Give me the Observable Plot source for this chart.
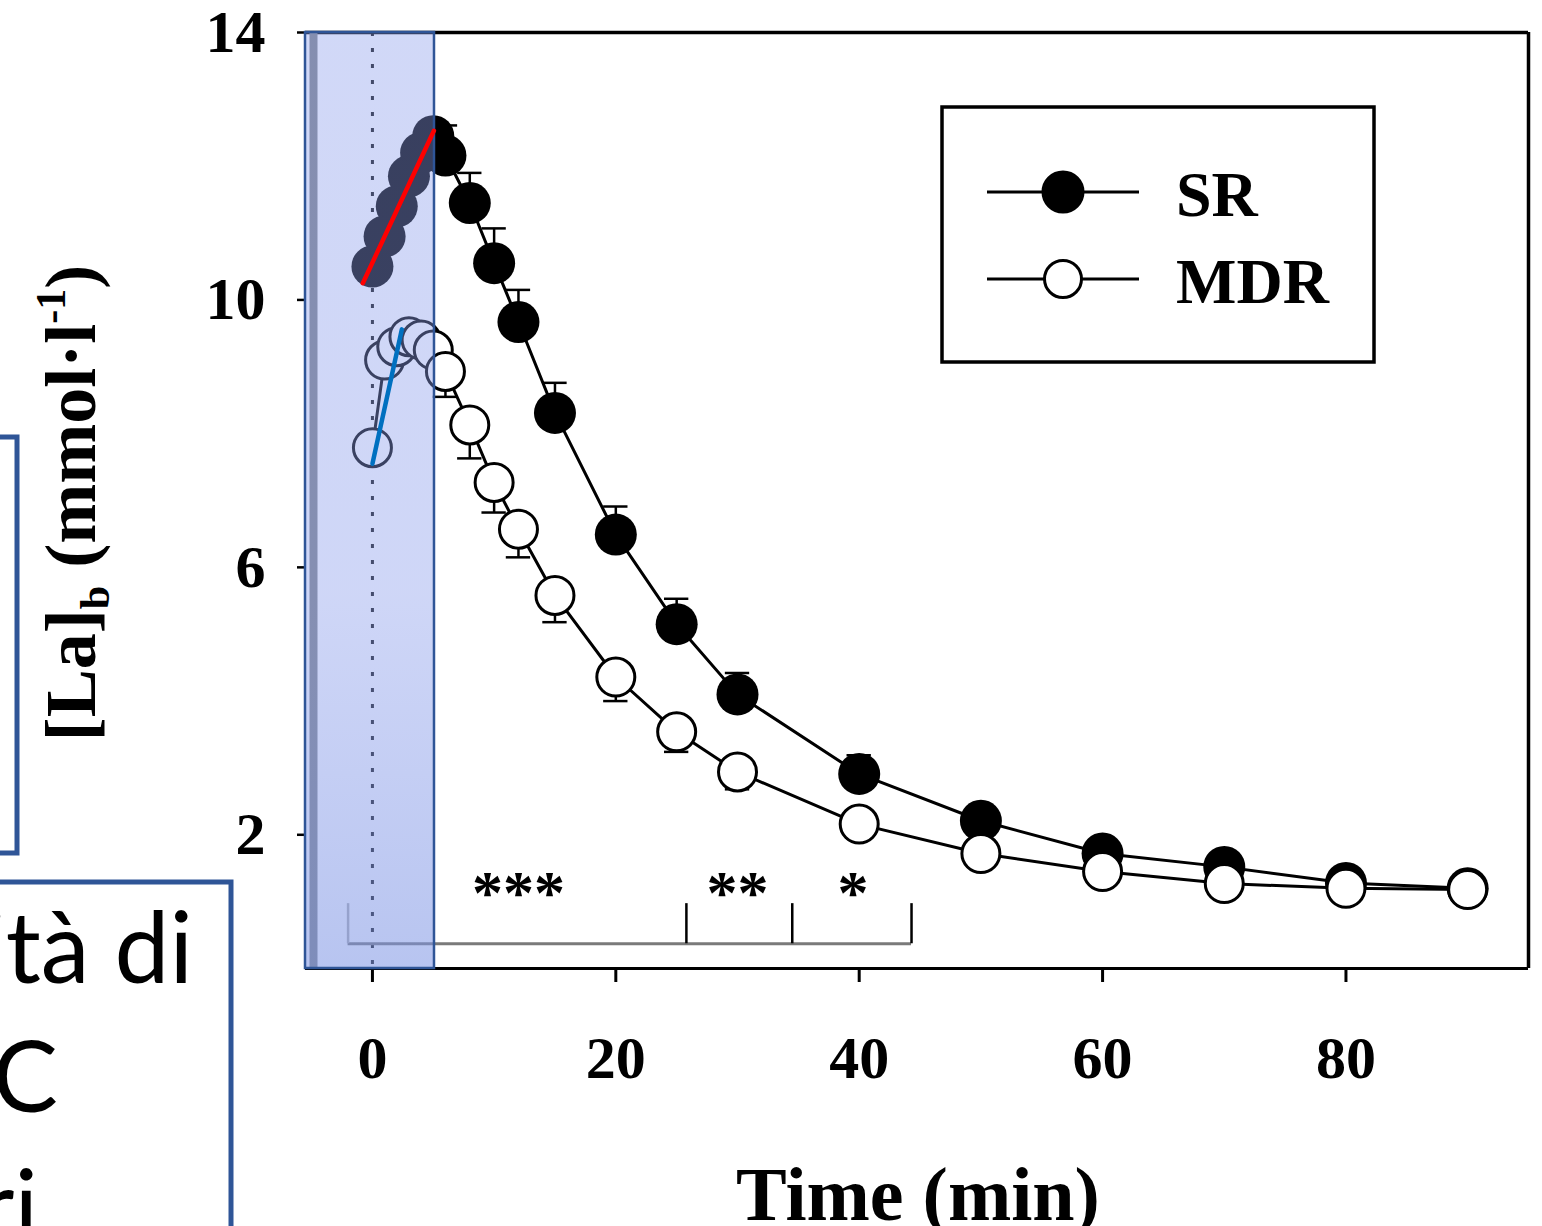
<!DOCTYPE html>
<html>
<head>
<meta charset="utf-8">
<script src="https://cdn.jsdelivr.net/npm/d3@7"></script>
<script src="https://cdn.jsdelivr.net/npm/@observablehq/plot@0.6"></script>
<style>
  html, body { margin: 0; padding: 0; background: #fff; overflow: hidden; }
  #wrap { position: relative; width: 1542px; height: 1226px; overflow: hidden; background: #fff; }
  #wrap > svg { position: absolute; left: 0; top: 0; overflow: visible; }
</style>
</head>
<body>
<div id="wrap"></div>
<script>
// Blood lactate during recovery, SR vs MDR (minutes after exercise)
const timeMin = [0, 1, 2, 3, 4, 5, 6, 8, 10, 12, 15, 20, 25, 30, 40, 50, 60, 70, 80, 90];
const lactateSR  = [10.5, 10.95, 11.4, 11.85, 12.2, 12.45, 12.16, 11.45, 10.55, 9.67, 8.31, 6.49, 5.15, 4.1, 2.91, 2.21, 1.72, 1.52, 1.28, 1.2];
const sdSR       = [0, 0, 0, 0, 0, 0, 0.45, 0.45, 0.52, 0.48, 0.45, 0.42, 0.38, 0.32, 0.28, 0.22, 0.18, 0.15, 0.12, 0.1];
const lactateMDR = [7.79, 9.1, 9.3, 9.45, 9.4, 9.25, 8.93, 8.13, 7.27, 6.57, 5.58, 4.36, 3.54, 2.94, 2.16, 1.72, 1.45, 1.27, 1.2, 1.18];
const sdMDR      = [0, 0, 0, 0, 0, 0, 0.38, 0.5, 0.45, 0.42, 0.4, 0.36, 0.3, 0.26, 0.22, 0.18, 0.15, 0.12, 0.1, 0.1];

// Axes
const xDomain = [-5.5, 95];
const yDomain = [0, 14];
const xTicks = [0, 20, 40, 60, 80];
const yTicks = [2, 6, 10, 14];

// Highlighted early-recovery window and the two initial slopes
const windowTime = [-5.5, 5.1];
const slopeSRTime = [-0.79, 5.05];
const slopeSRValue = [10.25, 12.53];
const slopeMDRTime = [0, 2.42];
const slopeMDRValue = [7.55, 9.56];

// Significance brackets and stars
const bracketEdges = [-2, 25.8, 34.5, 44.3];
const bracketBase = 0.37;
const bracketTop = 0.97;
const starTime = [12, 30, 39.5];
const starLabels = ["***", "**", "*"];
const starLevel = 1.27;

// Legend
const seriesNames = ["SR", "MDR"];

const sr = timeMin.map((t, i) => ({t, v: lactateSR[i], sd: sdSR[i]}));
const mdr = timeMin.map((t, i) => ({t, v: lactateMDR[i], sd: sdMDR[i]}));
const srBars = sr.filter(d => d.sd > 0);
const mdrBars = mdr.filter(d => d.sd > 0);
const serif = "'Liberation Serif', 'Times New Roman', serif";

const chart = Plot.plot({
  width: 1542,
  height: 1226,
  marginLeft: 305,
  marginRight: 14,
  marginTop: 32,
  marginBottom: 258,
  x: {domain: xDomain},
  y: {domain: yDomain},
  style: {fontFamily: serif, background: "transparent", color: "#000"},
  marks: [
    // dotted reference line at t = 0
    Plot.ruleX([0], {stroke: "#111", strokeWidth: 3, strokeDasharray: "4,12"}),
    // frame
    Plot.ruleY([yDomain[1]], {stroke: "#000", strokeWidth: 3.5}),
    Plot.ruleY([yDomain[0]], {stroke: "#000", strokeWidth: 3}),
    Plot.ruleX([xDomain[1]], {stroke: "#000", strokeWidth: 3.5}),
    Plot.ruleX([xDomain[0]], {stroke: "#808488", strokeWidth: 8, dx: 8}),
    // axes
    Plot.axisX(xTicks, {anchor: "bottom", tickSize: 14, tickPadding: 53, fontSize: 60, fontWeight: "bold", strokeWidth: 3, label: null, tickFormat: "d"}),
    Plot.axisY(yTicks, {anchor: "left", tickSize: 8, tickPadding: 32, fontSize: 60, fontWeight: "bold", strokeWidth: 2.5, label: null, tickFormat: "d"}),
    // significance brackets
    Plot.ruleY([bracketBase], {x1: bracketEdges[0], x2: bracketEdges[bracketEdges.length - 1], stroke: "#7a7a7a", strokeWidth: 3}),
    Plot.ruleX(bracketEdges, {y1: bracketBase, y2: bracketTop, stroke: (d, i) => i === 0 ? "#b0b0b0" : "#000", strokeWidth: 2.5}),
    Plot.text(starTime, {x: d => d, y: starLevel, text: (d, i) => starLabels[i], fontSize: 62, fontWeight: "bold", fill: "#000", dy: 10}),
    // SR: error bars, line, filled circles
    Plot.ruleX(srBars, {x: "t", y1: "v", y2: d => d.v + d.sd, stroke: "#000", strokeWidth: 2.5}),
    Plot.ruleY(srBars, {y: d => d.v + d.sd, x1: d => d.t - 1, x2: d => d.t + 1, stroke: "#000", strokeWidth: 2.5}),
    Plot.line(sr, {x: "t", y: "v", stroke: "#000", strokeWidth: 3}),
    Plot.dot(sr, {x: "t", y: "v", r: 21, fill: "#000", stroke: "none"}),
    // MDR: error bars, line, open circles
    Plot.ruleX(mdrBars, {x: "t", y1: "v", y2: d => d.v - d.sd, stroke: "#000", strokeWidth: 2.5}),
    Plot.ruleY(mdrBars, {y: d => d.v - d.sd, x1: d => d.t - 1, x2: d => d.t + 1, stroke: "#000", strokeWidth: 2.5}),
    Plot.line(mdr, {x: "t", y: "v", stroke: "#000", strokeWidth: 3}),
    Plot.dot(mdr, {x: "t", y: "v", r: 19, fill: "#fff", stroke: "#000", strokeWidth: 3}),
    // translucent highlight of the early-recovery window
    Plot.rect([{x1: windowTime[0], x2: windowTime[1], y1: yDomain[0], y2: yDomain[1]}],
      {x1: "x1", x2: "x2", y1: "y1", y2: "y2", fill: "url(#windowShade)", stroke: "#2f5597", strokeWidth: 2.5}),
    // initial slopes
    Plot.line(slopeSRTime.map((t, i) => ({t, v: slopeSRValue[i]})), {x: "t", y: "v", stroke: "#ff0000", strokeWidth: 4.5}),
    Plot.line(slopeMDRTime.map((t, i) => ({t, v: slopeMDRValue[i]})), {x: "t", y: "v", stroke: "#0070c0", strokeWidth: 4.5})
  ]
});

// gradient used by the highlight window
const defs = d3.select(chart).insert("defs", ":first-child");
const grad = defs.append("linearGradient").attr("id", "windowShade")
  .attr("x1", 0).attr("x2", 0).attr("y1", 0).attr("y2", 1);
grad.append("stop").attr("offset", "0%").attr("stop-color", "rgb(140,158,236)").attr("stop-opacity", 0.4);
grad.append("stop").attr("offset", "60%").attr("stop-color", "rgb(140,158,236)").attr("stop-opacity", 0.42);
grad.append("stop").attr("offset", "100%").attr("stop-color", "rgb(125,148,228)").attr("stop-opacity", 0.55);

const wrap = document.getElementById("wrap");
wrap.appendChild(chart);

// titles, legend and the slide text boxes
const ov = d3.select(wrap).append("svg")
  .attr("width", 1542).attr("height", 1226)
  .style("pointer-events", "none");

// y title with subscript and superscript
const yTitle = ov.append("text")
  .attr("transform", "translate(95,503) rotate(-90)")
  .attr("text-anchor", "middle")
  .attr("font-family", serif).attr("font-weight", "bold").attr("font-size", 72)
  .attr("fill", "#000");
yTitle.append("tspan").text("[La]");
yTitle.append("tspan").attr("font-size", 42).attr("dy", 14).text("b");
yTitle.append("tspan").attr("dy", -14).text(" (mmol·l");
yTitle.append("tspan").attr("font-size", 42).attr("dy", -30).text("-1");
yTitle.append("tspan").attr("dy", 30).text(")");

// x title
ov.append("text")
  .attr("x", 918).attr("y", 1220)
  .attr("text-anchor", "middle")
  .attr("font-family", serif).attr("font-weight", "bold").attr("font-size", 76)
  .attr("fill", "#000")
  .text("Time (min)");

// legend
const lg = ov.append("g");
lg.append("rect").attr("x", 942).attr("y", 107).attr("width", 432).attr("height", 255)
  .attr("fill", "#fff").attr("stroke", "#000").attr("stroke-width", 3.5);
const legendRows = [{y: 192, fill: "#000", r: 20}, {y: 279, fill: "#fff", r: 18.5}];
seriesNames.forEach((name, i) => {
  const row = legendRows[i];
  lg.append("line").attr("x1", 987).attr("x2", 1139).attr("y1", row.y).attr("y2", row.y)
    .attr("stroke", "#000").attr("stroke-width", 3);
  lg.append("circle").attr("cx", 1063).attr("cy", row.y).attr("r", row.r)
    .attr("fill", row.fill).attr("stroke", "#000").attr("stroke-width", 3);
  lg.append("text").attr("x", 1176).attr("y", row.y + 24)
    .attr("font-family", serif).attr("font-weight", "bold").attr("font-size", 64)
    .attr("fill", "#000").text(name);
});

// slide text boxes running in from the left edge
const boxBlue = "#2f5597";
ov.append("rect").attr("x", -200).attr("y", 437).attr("width", 217).attr("height", 416)
  .attr("fill", "none").attr("stroke", boxBlue).attr("stroke-width", 5);
ov.append("rect").attr("x", -400).attr("y", 882).attr("width", 631).attr("height", 500)
  .attr("fill", "#fff").attr("stroke", boxBlue).attr("stroke-width", 5);
const boxLines = [
  {text: "capacità di", x: 193, y: 983},
  {text: "smaltimento LAC", x: 58, y: 1112},
  {text: "maggiori", x: 38, y: 1241}
];
boxLines.forEach(l => {
  ov.append("text").attr("x", l.x).attr("y", l.y).attr("text-anchor", "end")
    .attr("font-family", "Lato, 'Open Sans', sans-serif").attr("font-size", 98)
    .attr("fill", "#000").text(l.text);
});
</script>
</body>
</html>
